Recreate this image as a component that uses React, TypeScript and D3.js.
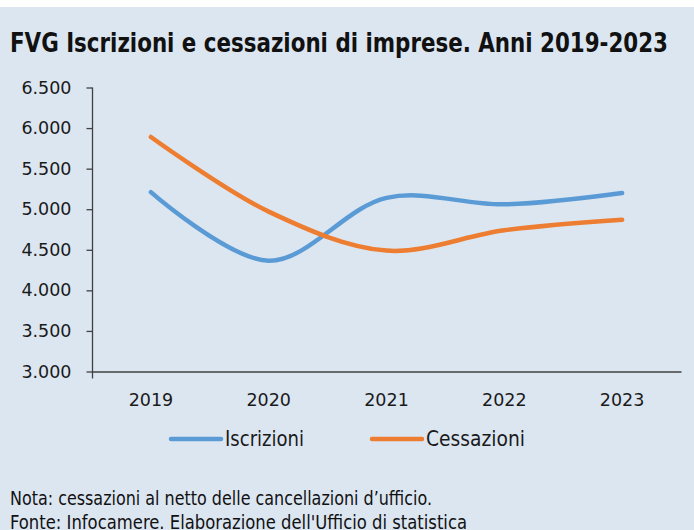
import React, { useEffect, useRef } from 'react';
import * as d3 from 'd3';

const years = ['2019', '2020', '2021', '2022', '2023'];
const iscrizioni = [5210, 4365, 5140, 5060, 5200];
const cessazioni = [5890, 4970, 4490, 4740, 4870];
const yTicks = [3000, 3500, 4000, 4500, 5000, 5500, 6000, 6500];
const seriesNames = ['Iscrizioni', 'Cessazioni'];
const seriesColors = ['#5b9bd5', '#ed7d31'];

const App: React.FC = () => {
  const svgRef = useRef<SVGSVGElement | null>(null);

  useEffect(() => {
    const svg = d3.select(svgRef.current);
    svg.selectAll('*').remove();
    const width = 694;
    const height = 530;
    const narrow = "'Liberation Sans Narrow', 'DejaVu Sans Condensed', 'Noto Sans', sans-serif";
    const it = d3.formatLocale({ decimal: ',', thousands: '.', grouping: [3], currency: ['', '€'] });
    const fmt = it.format(',.0f');

    svg.attr('width', width).attr('height', height);

    // Background
    svg.append('rect').attr('x', 0).attr('y', 0).attr('width', width).attr('height', height).attr('fill', '#ffffff');
    svg.append('rect').attr('x', 0).attr('y', 7).attr('width', width).attr('height', height - 7).attr('fill', '#dce6f1');

    // Title
    svg.append('text')
      .attr('x', 10)
      .attr('y', 52)
      .attr('font-family', narrow)
      .attr('font-weight', 'bold')
      .attr('font-size', 27)
      .attr('fill', '#111')
      .attr('textLength', 658)
      .attr('lengthAdjust', 'spacingAndGlyphs')
      .text('FVG Iscrizioni e cessazioni di imprese. Anni 2019-2023');

    const x = d3.scaleBand()
      .domain(years)
      .range([92, 681]);

    const y = d3.scaleLinear()
      .domain([3000, 6500])
      .range([371.5, 87.5]);

    // Y axis
    const gy = svg.append('g')
      .attr('transform', 'translate(92.5,0)')
      .call(d3.axisLeft(y).tickValues(yTicks).tickSize(6).tickSizeOuter(0).tickPadding(15).tickFormat(d => fmt(d as number)));
    gy.select('.domain').remove();
    gy.selectAll('.tick line').attr('stroke', '#404040').attr('stroke-width', 1.3);
    gy.selectAll('.tick text')
      .attr('font-family', "'DejaVu Sans', sans-serif")
      .attr('font-size', 17.5)
      .attr('fill', '#1a1a1a');
    svg.append('line')
      .attr('x1', 92.5).attr('x2', 92.5)
      .attr('y1', y(6500)).attr('y2', y(3000) + 7)
      .attr('stroke', '#404040').attr('stroke-width', 1.3);

    // X axis
    const gx = svg.append('g')
      .attr('transform', `translate(0,${y(3000)})`)
      .call(d3.axisBottom(x).tickSize(0).tickSizeOuter(0).tickPadding(22));
    gx.select('.domain').attr('stroke', '#404040').attr('stroke-width', 1.6);
    gx.selectAll('.tick text')
      .attr('font-family', "'DejaVu Sans', sans-serif")
      .attr('font-size', 17.5)
      .attr('fill', '#1a1a1a');

    // Lines
    const line = d3.line<number>()
      .x((d, i) => (x(years[i]) as number) + x.bandwidth() / 2)
      .y(d => y(d))
      .curve(d3.curveCatmullRom);

    [iscrizioni, cessazioni].forEach((vals, k) => {
      svg.append('path')
        .attr('d', line(vals))
        .attr('fill', 'none')
        .attr('stroke', seriesColors[k])
        .attr('stroke-width', 4.5)
        .attr('stroke-linecap', 'round')
        .attr('stroke-linejoin', 'round');
    });

    // Legend
    const legendX = [171, 372];
    const legendW = [79, 99];
    seriesNames.forEach((name, k) => {
      svg.append('line')
        .attr('x1', legendX[k]).attr('x2', legendX[k] + 50)
        .attr('y1', 439).attr('y2', 439)
        .attr('stroke', seriesColors[k])
        .attr('stroke-width', 4.5)
        .attr('stroke-linecap', 'round');
      svg.append('text')
        .attr('x', legendX[k] + 54)
        .attr('y', 446)
        .attr('font-family', narrow)
        .attr('font-size', 22)
        .attr('fill', '#1a1a1a')
        .attr('textLength', legendW[k])
        .attr('lengthAdjust', 'spacingAndGlyphs')
        .text(name);
    });

    // Notes
    svg.append('text')
      .attr('x', 10)
      .attr('y', 505)
      .attr('font-family', narrow)
      .attr('font-size', 19)
      .attr('fill', '#111')
      .attr('textLength', 422)
      .attr('lengthAdjust', 'spacingAndGlyphs')
      .text('Nota: cessazioni al netto delle cancellazioni d\u2019ufficio.');
    svg.append('text')
      .attr('x', 10)
      .attr('y', 529)
      .attr('font-family', narrow)
      .attr('font-size', 19)
      .attr('fill', '#111')
      .attr('textLength', 457)
      .attr('lengthAdjust', 'spacingAndGlyphs')
      .text('Fonte: Infocamere. Elaborazione dell\'Ufficio di statistica');
  }, []);

  return (
    <>
      <svg ref={svgRef} style={{ position: 'fixed', top: 0, left: 0 }}></svg>
    </>
  );
};

export default App;
